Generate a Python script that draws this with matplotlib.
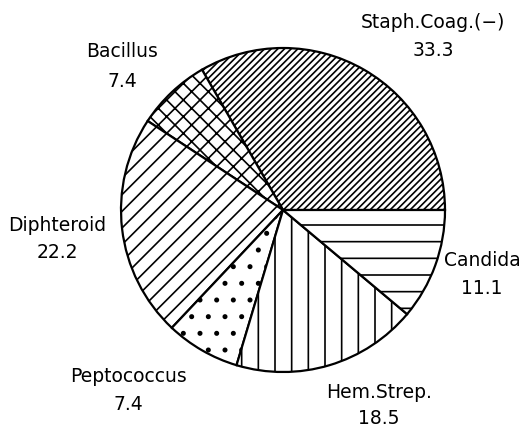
import matplotlib
matplotlib.use("Agg")
import matplotlib.pyplot as plt

categories = ["Staph.Coag.(−)", "Bacillus", "Diphteroid", "Peptococcus", "Hem.Strep.", "Candida"]
values = [33.3, 7.4, 22.2, 7.4, 18.5, 11.1]
value_labels = ["33.3", "7.4", "22.2", "7.4", "18.5", "11.1"]
hatches = ["/////", "xx", "//", ".", "|", "-"]

plt.rcParams["hatch.linewidth"] = 1.2
plt.rcParams["hatch.color"] = "black"

W, H = 532, 428
fig = plt.figure(figsize=(W / 100, H / 100), dpi=100)
ax = fig.add_axes([0, 0, 1, 1])

wedges, _ = ax.pie(values, startangle=0, counterclock=True, center=(283, H - 210), radius=162,
                   colors=["white"] * len(values),
                   wedgeprops=dict(edgecolor="black", linewidth=1.6), frame=True)
for w, h in zip(wedges, hatches):
    w.set_hatch(h)

ax.set_xlim(0, W)
ax.set_ylim(0, H)
ax.axis("off")

# (x, name_y, value_y) in pixel positions from the top-left
label_pos = [(433, 22, 50), (122, 51, 81), (57, 225, 252), (128, 376, 404), (379, 392, 418), (482, 261, 288)]
for name, val, (x, y1, y2) in zip(categories, value_labels, label_pos):
    ax.text(x, H - y1, name, ha="center", va="center", fontsize=13.5, family="DejaVu Sans")
    ax.text(x, H - y2, val, ha="center", va="center", fontsize=13.5, family="DejaVu Sans")

fig.savefig("out.png", dpi=100)
